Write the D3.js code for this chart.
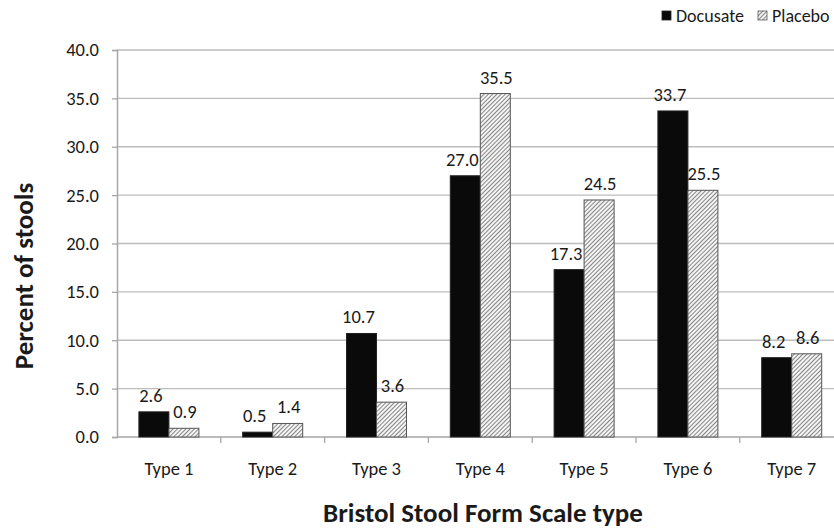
<!DOCTYPE html>
<html><head><meta charset="utf-8">
<script src="https://cdn.jsdelivr.net/npm/d3@7"></script>
<style>body{margin:0;background:#fff}svg{display:block}text{font-family:Carlito,Lato,"Open Sans",sans-serif;fill:#1a1a1a}</style>
</head><body><svg id="c" width="834" height="528"></svg>
<script>
const categories = ["Type 1","Type 2","Type 3","Type 4","Type 5","Type 6","Type 7"];
const seriesNames = ["Docusate","Placebo"];
const docusate = [2.6,0.5,10.7,27.0,17.3,33.7,8.2];
const placebo = [0.9,1.4,3.6,35.5,24.5,25.5,8.6];
const yTicks = [0,5,10,15,20,25,30,35,40];

const svg = d3.select("#c");
const defs = svg.append("defs");
const pat = defs.append("pattern").attr("id","hatch").attr("patternUnits","userSpaceOnUse")
  .attr("width",3).attr("height",3).attr("patternTransform","rotate(45)");
pat.append("rect").attr("width",3).attr("height",3).attr("fill","#f4f4f4");
pat.append("line").attr("x1",0).attr("y1",0).attr("x2",0).attr("y2",3).attr("stroke","#4a4a4a").attr("stroke-width",1.3);

const mLeft = 117, mTop = 50, mBottom = 437;
const bandW = 103.8;
const x = d3.scaleBand().domain(categories).range([mLeft, mLeft + bandW*categories.length]).paddingInner(0).paddingOuter(0);
const y = d3.scaleLinear().domain([0,40]).range([mBottom, mTop]);
const xs = d3.scaleBand().domain(seriesNames).range([0, 60]);
const barOff = (bandW - 60)/2;

// gridlines
svg.append("g").selectAll("line").data(yTicks.filter(d=>d>0)).join("line")
  .attr("x1",mLeft).attr("x2",834).attr("y1",d=>y(d)).attr("y2",d=>y(d))
  .attr("stroke","#bdbdbd").attr("stroke-width",1.3);

// y axis
const ya = svg.append("g").attr("transform",`translate(${mLeft},0)`)
  .call(d3.axisLeft(y).tickValues(yTicks).tickFormat(d3.format(".1f")).tickSize(5).tickPadding(13));
ya.select(".domain").attr("stroke","#a6a6a6").attr("stroke-width",1.5);
ya.selectAll(".tick line").attr("stroke","#a6a6a6").attr("stroke-width",1.3);
ya.selectAll(".tick text").style("font-size","18.5px").attr("fill","#1a1a1a").style("font-family","Carlito,Lato,sans-serif");

// x axis
svg.append("line").attr("x1",mLeft).attr("x2",834).attr("y1",mBottom).attr("y2",mBottom)
  .attr("stroke","#a6a6a6").attr("stroke-width",1.5);
svg.append("g").selectAll("line").data(categories.slice(1)).join("line")
  .attr("x1",d=>x(d)).attr("x2",d=>x(d)).attr("y1",mBottom).attr("y2",mBottom+6)
  .attr("stroke","#a6a6a6").attr("stroke-width",1.3);
svg.append("g").selectAll("text").data(categories).join("text")
  .attr("x",d=>x(d)+bandW/2).attr("y",475).attr("text-anchor","middle")
  .style("font-size","18.5px").text(d=>d);

// bars
const rows = categories.map((c,i)=>({c, vals:[{s:"Docusate",v:docusate[i]},{s:"Placebo",v:placebo[i]}]}));
const g = svg.append("g").selectAll("g").data(rows).join("g")
  .attr("transform",d=>`translate(${x(d.c)+barOff},0)`);
g.selectAll("rect").data(d=>d.vals).join("rect")
  .attr("x",d=>xs(d.s)).attr("width",xs.bandwidth())
  .attr("y",d=>y(d.v)).attr("height",d=>mBottom-y(d.v))
  .attr("fill",d=>d.s==="Docusate"?"#0a0a0a":"url(#hatch)")
  .attr("stroke",d=>d.s==="Docusate"?"#222":"#555").attr("stroke-width",1);
g.selectAll("text").data(d=>d.vals).join("text")
  .attr("x",d=>xs(d.s)+xs.bandwidth()/2+(d.s==="Docusate"?-3:1)).attr("y",d=>y(d.v)-10)
  .attr("text-anchor","middle").style("font-size","18.5px").text(d=>d.v.toFixed(1));

// axis titles
svg.append("text").attr("x",483).attr("y",522).attr("text-anchor","middle")
  .style("font-size","27px").style("font-weight","bold").text("Bristol Stool Form Scale type");
svg.append("text").attr("transform","translate(33,276) rotate(-90)").attr("text-anchor","middle")
  .style("font-size","27px").style("font-weight","bold").text("Percent of stools");

// legend
const legX = [662, 758];
const li = svg.append("g").attr("transform","translate(0,11)")
  .selectAll("g").data(seriesNames).join("g").attr("transform",(d,i)=>`translate(${legX[i]},0)`);
li.append("rect").attr("width",9).attr("height",9)
  .attr("fill",d=>d==="Docusate"?"#0a0a0a":"url(#hatch)").attr("stroke",d=>d==="Docusate"?"#222":"#555").attr("stroke-width",0.8);
li.append("text").attr("x",14).attr("y",10.5).style("font-size","18px").text(d=>d);
</script></body></html>
